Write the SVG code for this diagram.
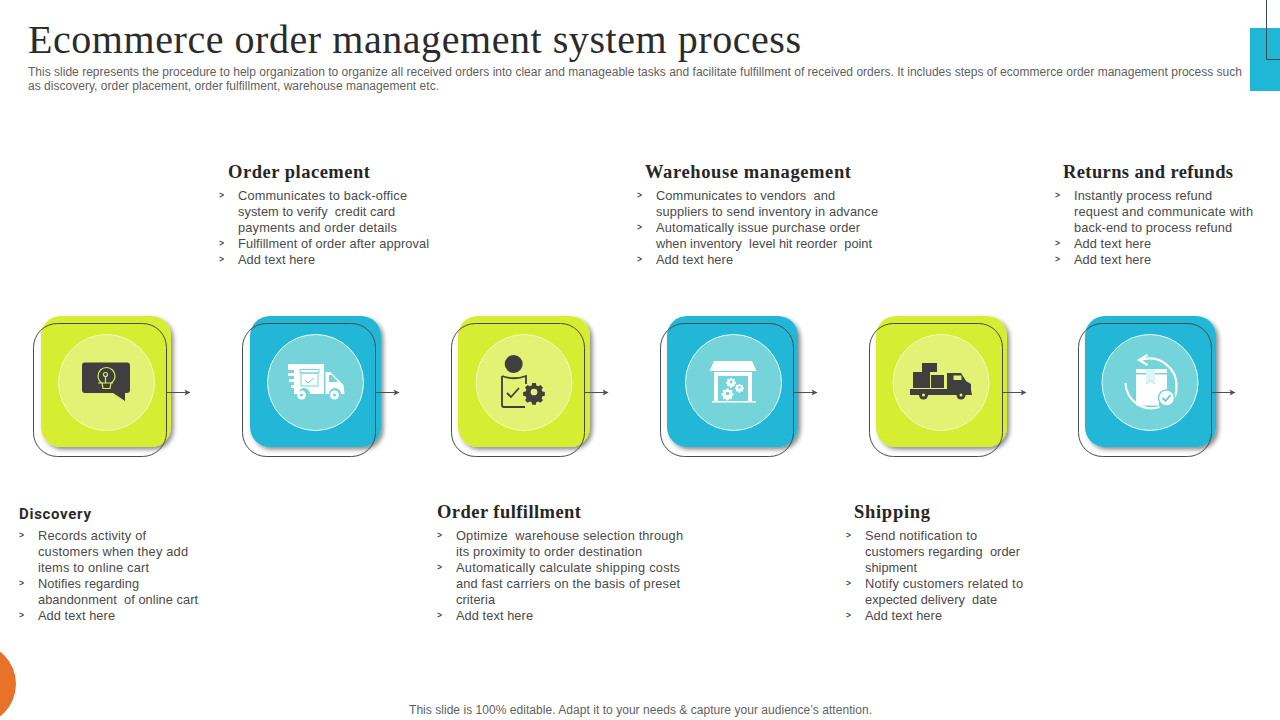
<svg xmlns="http://www.w3.org/2000/svg" width="1280" height="720" viewBox="0 0 1280 720">
<style>
text{white-space:pre}
.t{font-family:"Liberation Serif",serif;font-size:40px;fill:#2b2b2b}
.s{font-family:"Liberation Sans",Arial,sans-serif;font-size:12px;fill:#5f5f5f}
.h{font-family:"Liberation Serif",serif;font-weight:700;font-size:18.500px;fill:#262626}
.hs{font-family:"Roboto",sans-serif;font-weight:700;font-size:15px;fill:#2b2b2b}
.b{font-family:"Liberation Sans",Arial,sans-serif;font-size:12.800px;fill:#4a4a4a}
.m{font-family:"Liberation Sans",Arial,sans-serif;font-size:8.500px;font-weight:700;fill:#4a4a4a}
.lime{fill:#d6ed33}.blue{fill:#20b7d6}
.card{filter:url(#sh)}
.out{fill:none;stroke:#4a4a4a;stroke-width:1}
.dl{fill:#e3f274;stroke:#f4fab8;stroke-width:1}
.db{fill:#75d4d9;stroke:#e6fbfb;stroke-width:1}
.ic{fill:#3f3f3f}.w{fill:#fff}
.ln{fill:none;stroke:#d9ef5a;stroke-width:1.200}
.conn{fill:none;stroke:#4f4f4f;stroke-width:1;marker-end:url(#ar)}
</style>
<defs>
<filter id="sh" x="-15%" y="-15%" width="135%" height="135%"><feDropShadow dx="2.500" dy="2.500" stdDeviation="2.200" flood-color="#000" flood-opacity=".45"/></filter>
<marker id="ar" markerWidth="7" markerHeight="7" refX="6" refY="3.500" orient="auto" markerUnits="userSpaceOnUse"><path d="M0.500 0.500L6.500 3.500L0.500 6.500L2 3.500Z" fill="#4f4f4f"/></marker>
<g id="gear"><path d="M-1.600-8h3.200l.5 2.200 1.700.7 1.900-1.200 2.300 2.300-1.200 1.900.7 1.700 2.200.5v3.200l-2.200.5-.7 1.700 1.200 1.900-2.300 2.300-1.900-1.200-1.700.7-.5 2.200h-3.200l-.5-2.200-1.700-.7-1.900 1.200-2.300-2.300 1.200-1.900-.7-1.700-2.200-.5v-3.200l2.200-.5.7-1.700-1.200-1.900 2.300-2.300 1.900 1.200 1.700-.7zM0-3a3 3 0 1 0 0 6a3 3 0 1 0 0-6z" fill-rule="evenodd"/></g>
</defs>
<rect width="1280" height="720" fill="#fff"/>
<g id="decor">
<rect x="1250" y="28" width="30" height="63" fill="#20b7d6"/>
<path d="M1266.500 0V59.500H1280" fill="none" stroke="#3a4a55" stroke-width="1"/>
<circle cx="-25" cy="684" r="41" fill="#e8722a"/>
</g>
<g id="title">
<text class="t" x="28" y="53" textLength="773">Ecommerce order management system process</text>
<text class="s" x="28" y="76" textLength="1214">This slide represents the procedure to help organization to organize all received orders into clear and manageable tasks and facilitate fulfillment of received orders. It includes steps of ecommerce order management process such</text>
<text class="s" x="28" y="90" textLength="411">as discovery, order placement, order fulfillment, warehouse management etc.</text>
</g>
<g id="node-discovery">
<rect class="card lime" x="41" y="316" width="130" height="131" rx="20"/>
<rect class="out" x="33.500" y="323.500" width="133" height="133" rx="24"/>
<circle class="dl" cx="106.500" cy="382.500" r="48"/>
<path class="ic" d="M85 362.500h42a3 3 0 0 1 3 3v24.500a3 3 0 0 1-3 3h-2v8l-12-8H85a3 3 0 0 1-3-3v-24.500a3 3 0 0 1 3-3z"/>
<path class="ln" d="M103 388.500h7l1-5.500c3-2 4-4.500 4-7a8.500 8.500 0 0 0-17 0c0 2.500 1 5 4 7zM98 383h15M105.500 383v-7"/>
<circle class="ln" cx="105.500" cy="374.500" r="2"/>
<text class="hs" x="19" y="519" textLength="72">Discovery</text>
<text class="m" x="19" y="538">&gt;</text><text class="b" x="38" y="540" textLength="108">Records activity of</text>
<text class="b" x="38" y="556" textLength="150">customers when they add</text>
<text class="b" x="38" y="572" textLength="111">items to online cart</text>
<text class="m" x="19" y="586">&gt;</text><text class="b" x="38" y="588" textLength="101">Notifies regarding</text>
<text class="b" x="38" y="604" textLength="160">abandonment  of online cart</text>
<text class="m" x="19" y="618">&gt;</text><text class="b" x="38" y="620" textLength="77">Add text here</text>
</g>
<g id="node-order-placement">
<rect class="card blue" x="250" y="316" width="131" height="131" rx="20"/>
<rect class="out" x="242.500" y="323.500" width="133" height="133" rx="24"/>
<circle class="db" cx="315.500" cy="382.500" r="48"/>
<path class="w" d="M288 364h36v30h-14a6 6 0 0 0-12 0h-4v-6h-3v-3h3v-3h-5v-3h5v-3h-6v-3h6v-3h-6z"/>
<path class="w" d="M325.500 372h5l13 13 1 9h-3.500a6 6 0 0 0-12 0h-3.500z"/>
<path d="M329 375h3l6 7h-9z" fill="#75d4d9"/>
<circle class="w" cx="301.500" cy="395" r="4.500"/><circle class="w" cx="334.500" cy="395" r="4.500"/>
<circle cx="301.500" cy="395" r="1.600" fill="#75d4d9"/><circle cx="334.500" cy="395" r="1.600" fill="#75d4d9"/>
<path d="M301 373h17v13h-17zM300 369.500h19v3.500h-19zM305 380l3 3 6-5" fill="none" stroke="#75d4d9" stroke-width="1"/>
<text class="h" x="228" y="178" textLength="142">Order placement</text>
<text class="m" x="219" y="198">&gt;</text><text class="b" x="238" y="200" textLength="169">Communicates to back-office</text>
<text class="b" x="238" y="216" textLength="157">system to verify  credit card</text>
<text class="b" x="238" y="232" textLength="159">payments and order details</text>
<text class="m" x="219" y="246">&gt;</text><text class="b" x="238" y="248" textLength="191">Fulfillment of order after approval</text>
<text class="m" x="219" y="262">&gt;</text><text class="b" x="238" y="264" textLength="77">Add text here</text>
</g>
<g id="node-order-fulfillment">
<rect class="card lime" x="458" y="316" width="132" height="131" rx="20"/>
<rect class="out" x="451.500" y="323.500" width="133" height="133" rx="24"/>
<circle class="dl" cx="524" cy="382.500" r="48"/>
<circle class="ic" cx="513.700" cy="364" r="9"/>
<path d="M502 376c8 3 16 3 24 0v8M502 376v29a2 2 0 0 0 2 2h21" fill="none" stroke="#3f3f3f" stroke-width="1.800"/>
<path d="M507 393l4 4 8-9" fill="none" stroke="#3f3f3f" stroke-width="1.800"/>
<use href="#gear" class="ic" transform="translate(534 392) scale(1.120)"/>
<text class="h" x="437" y="518" textLength="144">Order fulfillment</text>
<text class="m" x="437" y="538">&gt;</text><text class="b" x="456" y="540" textLength="227">Optimize  warehouse selection through</text>
<text class="b" x="456" y="556" textLength="186">its proximity to order destination</text>
<text class="m" x="437" y="570">&gt;</text><text class="b" x="456" y="572" textLength="224">Automatically calculate shipping costs</text>
<text class="b" x="456" y="588" textLength="224">and fast carriers on the basis of preset</text>
<text class="b" x="456" y="604" textLength="39">criteria</text>
<text class="m" x="437" y="618">&gt;</text><text class="b" x="456" y="620" textLength="77">Add text here</text>
</g>
<g id="node-warehouse">
<rect class="card blue" x="667" y="316" width="131" height="131" rx="20"/>
<rect class="out" x="660.500" y="323.500" width="133" height="133" rx="24"/>
<circle class="db" cx="733.500" cy="382.500" r="48"/>
<path class="w" d="M714 361h38l4 9v1h-46v-1zM714 372h38v4h-38zM714 376h4v25h-4zM748 376h4v25h-4zM712 401h44v1.500h-44z"/>
<g class="w"><use href="#gear" transform="translate(731 382) scale(.5)"/><use href="#gear" transform="translate(739.500 387.500) scale(.45)"/><use href="#gear" transform="translate(727.500 393.500) scale(.62)"/></g>
<text class="h" x="645" y="178" textLength="206">Warehouse management</text>
<text class="m" x="637" y="198">&gt;</text><text class="b" x="656" y="200" textLength="179">Communicates to vendors  and</text>
<text class="b" x="656" y="216" textLength="222">suppliers to send inventory in advance</text>
<text class="m" x="637" y="230">&gt;</text><text class="b" x="656" y="232" textLength="204">Automatically issue purchase order</text>
<text class="b" x="656" y="248" textLength="216">when inventory  level hit reorder  point</text>
<text class="m" x="637" y="262">&gt;</text><text class="b" x="656" y="264" textLength="77">Add text here</text>
</g>
<g id="node-shipping">
<rect class="card lime" x="876" y="316" width="131" height="131" rx="20"/>
<rect class="out" x="869.500" y="323.500" width="133" height="133" rx="24"/>
<circle class="dl" cx="941" cy="382.500" r="48"/>
<path class="ic" d="M922 363h15v9h-15zM913 372h17v16h-17zM931 375h13v13h-13zM947 373h14l5 8 5 3v6l1 5h-62v-6h37z"/>
<circle class="ic" cx="923.500" cy="395" r="4.500"/><circle class="ic" cx="961" cy="395" r="4.500"/>
<circle cx="923.500" cy="395" r="1.500" fill="#e3f274"/><circle cx="961" cy="395" r="1.500" fill="#e3f274"/>
<rect x="953.500" y="375.500" width="8" height="4.500" fill="#e3f274"/>
<text class="h" x="854" y="518" textLength="76">Shipping</text>
<text class="m" x="846" y="538">&gt;</text><text class="b" x="865" y="540" textLength="112">Send notification to</text>
<text class="b" x="865" y="556" textLength="155">customers regarding  order</text>
<text class="b" x="865" y="572" textLength="52">shipment</text>
<text class="m" x="846" y="586">&gt;</text><text class="b" x="865" y="588" textLength="158">Notify customers related to</text>
<text class="b" x="865" y="604" textLength="132">expected delivery  date</text>
<text class="m" x="846" y="618">&gt;</text><text class="b" x="865" y="620" textLength="77">Add text here</text>
</g>
<g id="node-returns">
<rect class="card blue" x="1085" y="316" width="131" height="131" rx="20"/>
<rect class="out" x="1078.500" y="323.500" width="133" height="133" rx="24"/>
<circle class="db" cx="1150" cy="382.500" r="48"/>
<path d="M1141 360a27 27 0 0 1 35.500 27q0 7-3 12M1125.500 383a26 26 0 0 0 34 24" fill="none" stroke="#fff" stroke-width="2.200"/>
<path d="M1147.500 355l-8.500 5 8.500 5" fill="none" stroke="#fff" stroke-width="2.200"/>
<path class="w" d="M1136 369h10v4h-10zM1155 369h12v4h-12zM1136 374.500h10v10l4.500-3.500 4.500 3.500v-10h12v25h-8v6h-23z"/>
<path class="w" d="M1146 369h9v15l-4.500-3.500-4.500 3.500z" fill-opacity=".75"/>
<circle cx="1166.500" cy="398" r="8" fill="#fff" stroke="#75d4d9" stroke-width="1.500"/>
<path d="M1162.500 398l3 3 5-6" fill="none" stroke="#5fcbd3" stroke-width="1.800"/>
<text class="h" x="1063" y="178" textLength="170">Returns and refunds</text>
<text class="m" x="1055" y="198">&gt;</text><text class="b" x="1074" y="200" textLength="138">Instantly process refund</text>
<text class="b" x="1074" y="216" textLength="179">request and communicate with</text>
<text class="b" x="1074" y="232" textLength="158">back-end to process refund</text>
<text class="m" x="1055" y="246">&gt;</text><text class="b" x="1074" y="248" textLength="77">Add text here</text>
<text class="m" x="1055" y="262">&gt;</text><text class="b" x="1074" y="264" textLength="77">Add text here</text>
</g>
<g id="connectors">
<path class="conn" d="M167 392.500H190"/>
<path class="conn" d="M376 392.500H399"/>
<path class="conn" d="M585 392.500H608"/>
<path class="conn" d="M794 392.500H817"/>
<path class="conn" d="M1003 392.500H1026"/>
<path class="conn" d="M1212 392.500H1235"/>
</g>
<g id="footer"><text class="s" x="409" y="714" textLength="463">This slide is 100% editable. Adapt it to your needs &amp; capture your audience’s attention.</text></g>
</svg>
